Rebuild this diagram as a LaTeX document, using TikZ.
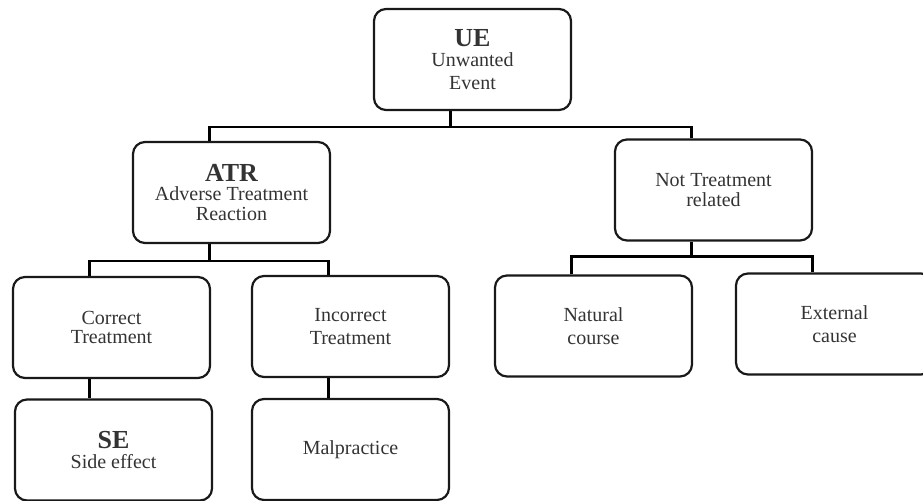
\documentclass[tikz,border=0pt]{standalone}
\usepackage{fontspec}
\setmainfont{Liberation Serif}
\newcommand{\hd}[1]{{\fontsize{13}{13}\selectfont\bfseries #1}}
\begin{document}
\begin{tikzpicture}[x=0.5pt, y=-0.5pt, line width=1.1pt, font=\fontsize{10}{9.6}\selectfont,
  box/.style={draw=black!90, rounded corners=6pt, minimum width=98.5pt, minimum height=50.5pt,
    align=center, inner sep=0pt, text=black!80}]
  \useasboundingbox (0,0) rectangle (923,501);
  \node[box] (ue) at (472.5,59.5) {\hd{UE}\\[0.6pt] Unwanted\\[2pt] Event};
  \node[box] (atr) at (231.5,192.5) {\hd{ATR}\\ Adverse Treatment\\ Reaction};
  \node[box] (ntr) at (713.5,190) {Not Treatment\\ related};
  \node[box] (ct) at (111.5,327.5) {Correct\\ Treatment};
  \node[box] (it) at (350.5,326.5) {Incorrect\\[2.2pt] Treatment};
  \node[box] (nc) at (593.5,326) {Natural\\[2.2pt] course};
  \node[box] (ec) at (834.5,324) {External\\[2.2pt] cause};
  \node[box] (se) at (113.5,450) {\hd{SE}\\ Side effect};
  \node[box] (mp) at (350.5,449.5) {Malpractice};
  \draw ([xshift=-11pt]ue.south) -- ++(0,16) coordinate (j0);
  \draw ([xshift=-11pt]atr.north) |- (j0) -| ([xshift=-11pt]ntr.north);
  \draw ([xshift=-11pt]atr.south) -- ++(0,17) coordinate (j1);
  \draw ([xshift=-11pt]ct.north) |- (j1) -| ([xshift=-11pt]it.north);
  \draw ([xshift=-11pt]ntr.south) -- ++(0,15) coordinate (j2);
  \draw ([xshift=-11pt]nc.north) |- (j2) -| ([xshift=-11pt]ec.north);
  \draw ([xshift=-11pt]ct.south) -- ([xshift=-11pt]ct.south |- se.north);
  \draw ([xshift=-11pt]it.south) -- ([xshift=-11pt]it.south |- mp.north);
\end{tikzpicture}
\end{document}
